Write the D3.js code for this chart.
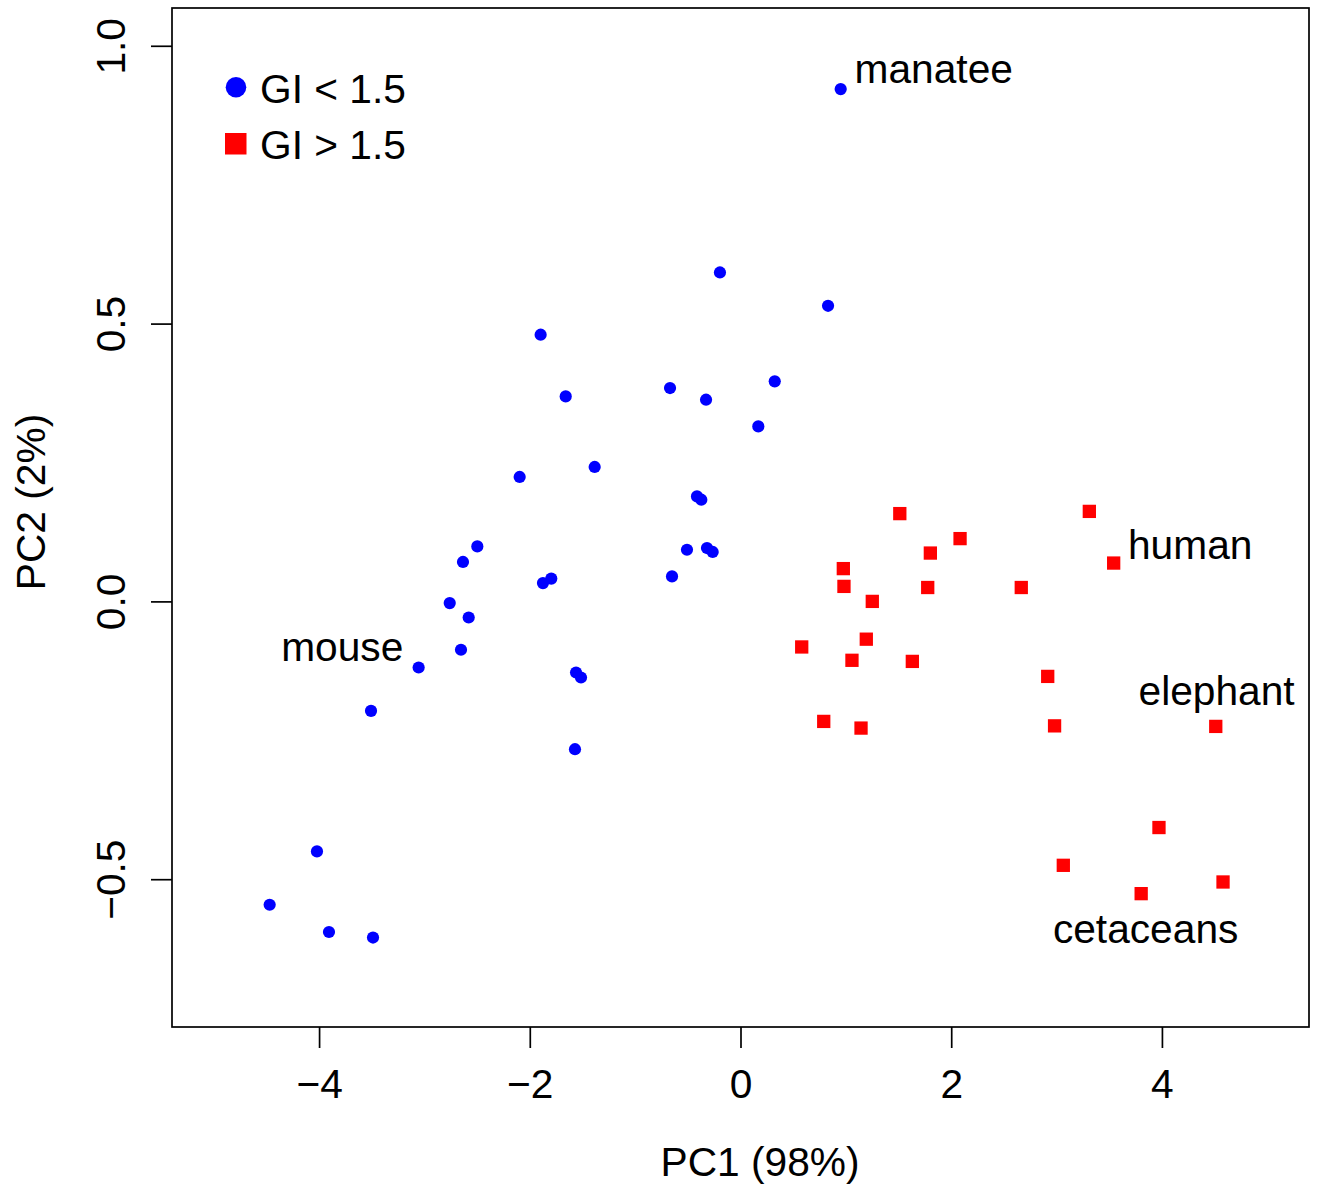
<!DOCTYPE html>
<html>
<head>
<meta charset="utf-8">
<script src="https://cdn.jsdelivr.net/npm/d3@7/dist/d3.min.js"></script>
<style>
  html, body { margin: 0; padding: 0; background: #fff; }
  svg { display: block; font-family: "Liberation Sans", Arial, Helvetica, sans-serif; }
</style>
</head>
<body>
<svg id="chart" width="1320" height="1185"></svg>
<script>
// ---- data ----
const lowGI_pc1 = [0.951, -0.195, 0.831, -1.897, -0.669, 0.325, -1.659, -0.327, 0.169, -1.384,
  -2.096, -0.413, -0.372, -2.498, -2.634, -0.508, -0.318, -0.264, -1.875, -1.796,
  -0.650, -2.760, -2.580, -2.653, -3.055, -1.561, -1.514, -3.507, -1.571, -4.020,
  -4.469, -3.906, -3.488];
const lowGI_pc2 = [0.922, 0.592, 0.532, 0.480, 0.384, 0.396, 0.369, 0.363, 0.315, 0.242,
  0.224, 0.189, 0.183, 0.099, 0.071, 0.093, 0.096, 0.089, 0.033, 0.041,
  0.045, -0.003, -0.029, -0.087, -0.119, -0.128, -0.137, -0.197, -0.266, -0.450,
  -0.546, -0.595, -0.605];
const highGI_pc1 = [1.512, 2.084, 1.802, 0.976, 0.982, 1.251, 1.777, 2.665, 1.194, 0.581,
  1.058, 1.631, 2.916, 0.790, 1.144, 2.981, 3.311, 3.542, 4.511, 3.972,
  3.064, 3.803, 4.580];
const highGI_pc2 = [0.158, 0.113, 0.087, 0.059, 0.027, 0.000, 0.025, 0.025, -0.068, -0.082,
  -0.106, -0.108, -0.135, -0.216, -0.228, -0.224, 0.162, 0.069, -0.225, -0.407,
  -0.475, -0.526, -0.505];
const xTicks = [-4, -2, 0, 2, 4];
const yTicks = [-0.5, 0.0, 0.5, 1.0];
const legendLabels = ["GI < 1.5", "GI > 1.5"];
const annotLabels = ["manatee", "human", "elephant", "cetaceans", "mouse"];
const annotX = [1.083, 3.678, 3.778, 2.965, -4.36];
const annotY = [0.933, 0.077, -0.187, -0.615, -0.108];
const xTitle = "PC1 (98%)";
const yTitle = "PC2 (2%)";

// ---- layout ----
const svg = d3.select("#chart");
const L = 172, R = 1309, T = 8, B = 1027;
const FS = 40.7;
const x = d3.scaleLinear().domain([-5.396, 5.396]).range([L, R]);
const y = d3.scaleLinear().domain([-0.766, 1.068]).range([B, T]);

// frame
svg.append("rect").attr("x", L).attr("y", T).attr("width", R - L).attr("height", B - T)
  .attr("fill", "none").attr("stroke", "#000").attr("stroke-width", 1.7);

// x axis
const gx = svg.append("g").attr("transform", `translate(0,${B})`)
  .call(d3.axisBottom(x).tickValues(xTicks).tickSize(21).tickFormat(d3.format("d")));
gx.select(".domain").remove();
gx.selectAll(".tick line").attr("stroke", "#000").attr("stroke-width", 1.7);
gx.selectAll(".tick text").attr("y", 71).attr("dy", 0)
  .attr("font-size", FS).attr("font-family", "Liberation Sans, Arial, sans-serif").attr("fill", "#000");

// y axis
const gy = svg.append("g").attr("transform", `translate(${L},0)`)
  .call(d3.axisLeft(y).tickValues(yTicks).tickSize(21).tickFormat(d3.format(".1f")));
gy.select(".domain").remove();
gy.selectAll(".tick line").attr("stroke", "#000").attr("stroke-width", 1.7);
gy.selectAll(".tick text").attr("x", 0).attr("dy", 0).attr("y", 0)
  .attr("transform", "translate(-47,0) rotate(-90)")
  .attr("text-anchor", "middle")
  .attr("font-size", FS).attr("font-family", "Liberation Sans, Arial, sans-serif").attr("fill", "#000");

// axis titles
svg.append("text").attr("x", 760).attr("y", 1176).attr("text-anchor", "middle")
  .attr("font-size", FS).text(xTitle);
svg.append("text").attr("transform", "translate(45,502) rotate(-90)").attr("text-anchor", "middle")
  .attr("font-size", FS).text(yTitle);

// points
const low = lowGI_pc1.map((v, i) => ({ x: v, y: lowGI_pc2[i] }));
const high = highGI_pc1.map((v, i) => ({ x: v, y: highGI_pc2[i] }));
const S = 13.3;
svg.append("g").selectAll("rect").data(high).join("rect")
  .attr("x", d => x(d.x) - S / 2).attr("y", d => y(d.y) - S / 2)
  .attr("width", S).attr("height", S).attr("fill", "#ff0000");
svg.append("g").selectAll("circle").data(low).join("circle")
  .attr("cx", d => x(d.x)).attr("cy", d => y(d.y)).attr("r", 6.1).attr("fill", "#0000ff");

// annotations
svg.append("g").selectAll("text").data(annotLabels).join("text")
  .attr("x", (d, i) => x(annotX[i])).attr("y", (d, i) => y(annotY[i]))
  .attr("font-size", FS).attr("fill", "#000").text(d => d);

// legend
const lg = svg.append("g");
lg.append("circle").attr("cx", 236).attr("cy", 87.3).attr("r", 10.3).attr("fill", "#0000ff");
lg.append("rect").attr("x", 225).attr("y", 133).attr("width", 21.5).attr("height", 21.5).attr("fill", "#ff0000");
lg.selectAll("text").data(legendLabels).join("text")
  .attr("x", 260).attr("y", (d, i) => 102.5 + i * 56.5)
  .attr("font-size", FS).attr("fill", "#000").text(d => d);
</script>
</body>
</html>
